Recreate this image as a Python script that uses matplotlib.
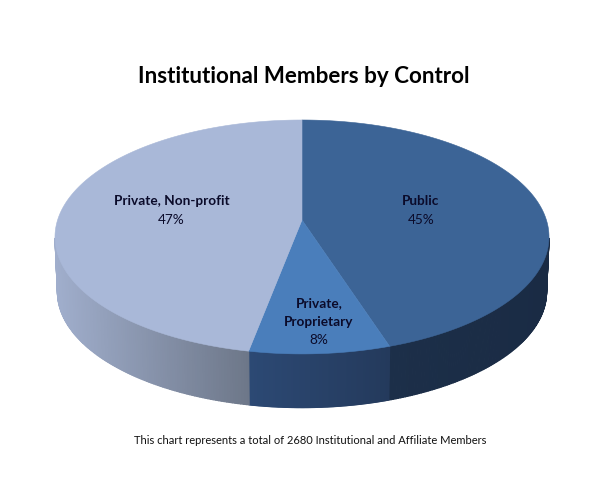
import numpy as np
import matplotlib
matplotlib.use("Agg")
import matplotlib.pyplot as plt
from matplotlib.collections import PolyCollection
from matplotlib.colors import to_rgb

# Share of institutional members by control, clockwise from twelve o'clock
categories = ["Public", "Private,\nProprietary", "Private, Non-profit"]
shares = [45, 8, 47]
top_colors = ["#3c6496", "#4a7ebb", "#a9b8d8"]
side_left_colors = ["#1c2f49", "#2c4974", "#a0aecc"]
side_right_colors = ["#1a2b44", "#243a5c", "#6d7789"]
title = "Institutional Members by Control"
footnote = "This chart represents a total of 2680 Institutional and Affiliate Members"

W, H = 603, 499
CX, CY = 302, 220      # pie centre on the canvas
RX, RY = 244.4, 114.5  # disc radii before foreshortening
TILT = 0.145           # strength of the perspective
DEPTH = 55             # height of the extruded rim
BOTTOM_SCALE = 0.99    # lower rim recedes very slightly


def project(theta, scale=1.0, drop=0.0):
    """Map clockwise-from-top angles (radians) on the disc to canvas coordinates."""
    u, v = np.sin(theta), np.cos(theta)
    w = 1 + TILT * v
    return CX + scale * RX * u / w, CY - scale * RY * v / w + drop


fig = plt.figure(figsize=(W / 100, H / 100), dpi=100, facecolor="white")
ax = fig.add_axes([0, 0, 1, 1])
ax.set_xlim(0, W)
ax.set_ylim(H, 0)
ax.axis("off")

edges = 2 * np.pi * np.concatenate([[0], np.cumsum(shares)]) / sum(shares)

# Rim first, as thin shaded quads so each slice carries a horizontal gradient.
# Only the arc facing the viewer is drawn, so nothing shows behind the top face.
for start, end, c_l, c_r in zip(edges[:-1], edges[1:], side_left_colors, side_right_colors):
    th = np.linspace(max(start, np.pi * 0.55), min(end, np.pi * 1.45), 120)
    xt, yt = project(th)
    xb, yb = project(th, BOTTOM_SCALE, DEPTH)
    quads, cols = [], []
    c_l, c_r = np.array(to_rgb(c_l)), np.array(to_rgb(c_r))
    x0, x1 = xt.min(), xt.max()
    for i in range(len(th) - 1):
        f = np.clip((0.5 * (xt[i] + xt[i + 1]) - x0) / max(x1 - x0, 1), 0, 1)
        quads.append([(xt[i], yt[i]), (xt[i + 1], yt[i + 1]), (xb[i + 1], yb[i + 1]), (xb[i], yb[i])])
        cols.append(c_l + (c_r - c_l) * f)
    ax.add_collection(PolyCollection(quads, facecolors=cols, edgecolors=cols, linewidths=0.9, zorder=1))

# Top face
for start, end, col in zip(edges[:-1], edges[1:], top_colors):
    th = np.linspace(start, end, 240)
    x, y = project(th)
    ax.fill(np.r_[CX, x], np.r_[CY, y], facecolor=col, edgecolor=col, linewidth=0.4, zorder=2)

FONT = ["Lato", "DejaVu Sans"]
TEXT = "#0b0b2a"
LINE = 18.5
ax.text(303.5, 76.5, title, ha="center", va="center", fontsize=16.1, fontweight="bold", family=FONT, color="black")
ax.text(310.5, 440, footnote, ha="center", va="center", fontsize=8.05, family=FONT, color="#111111")

label_spots = [(421, 201), (319, 303), (171.5, 201)]
for cat, share, (lx, ly) in zip(categories, shares, label_spots):
    rows = cat.split("\n")
    for k, row in enumerate(rows):
        ax.text(lx, ly + LINE * k, row, ha="center", va="center", fontsize=9.8, fontweight="bold",
                family=FONT, color=TEXT, zorder=3)
    ax.text(lx, ly + LINE * len(rows), f"{share}%", ha="center", va="center", fontsize=9.8,
            family=FONT, color=TEXT, zorder=3)

fig.savefig("out.png", dpi=100, facecolor="white")
